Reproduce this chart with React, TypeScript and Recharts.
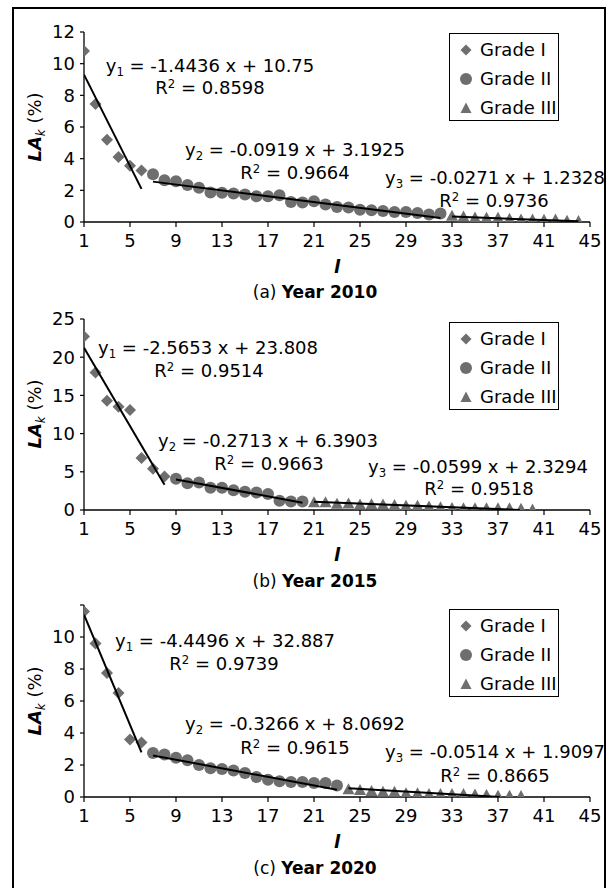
import React from 'react';
import { ScatterChart, Scatter, XAxis, YAxis } from 'recharts';

const FONT = '"DejaVu Sans", "Liberation Sans", sans-serif';
const GRAY = '#6e6e6e';

// ---------- shared axis ticks ----------
const rankTicks = [1, 5, 9, 13, 17, 21, 25, 29, 33, 37, 41, 45];
const yTicks2010 = [0, 2, 4, 6, 8, 10, 12];
const yTicks2015 = [0, 5, 10, 15, 20, 25];
const yTicks2020 = [0, 2, 4, 6, 8, 10, 12];
const legendLabels = ['Grade I', 'Grade II', 'Grade III'];

// ---------- (a) 2010 ----------
const g1Start2010 = 1;
const g1Values2010 = [10.8, 7.45, 5.2, 4.1, 3.55, 3.25];
const g2Start2010 = 7;
const g2Values2010 = [3.02, 2.64, 2.58, 2.33, 2.16, 1.86, 1.84, 1.8, 1.73, 1.63, 1.63, 1.69, 1.27, 1.23, 1.31, 1.1, 0.95, 0.91, 0.78, 0.74, 0.7, 0.63, 0.63, 0.57, 0.47, 0.53];
const g3Start2010 = 33;
const g3Values2010 = [0.36, 0.32, 0.25, 0.24, 0.24, 0.17, 0.13, 0.12, 0.11, 0.12, 0.04, 0.03];
const trend1_2010 = [{ x: 1, y: 9.31 }, { x: 6, y: 2.09 }];
const trend2_2010 = [{ x: 7, y: 2.55 }, { x: 32, y: 0.25 }];
const trend3_2010 = [{ x: 33, y: 0.34 }, { x: 44, y: 0.04 }];
const eq2010 = ['-1.4436 x + 10.75', '-0.0919 x + 3.1925', '-0.0271 x + 1.2328'];
const r2_2010 = ['0.8598', '0.9664', '0.9736'];

// ---------- (b) 2015 ----------
const g1Start2015 = 1;
const g1Values2015 = [22.7, 18.0, 14.3, 13.5, 13.1, 6.8, 5.4, 4.4];
const g2Start2015 = 9;
const g2Values2015 = [4.1, 3.5, 3.6, 2.9, 2.9, 2.6, 2.4, 2.3, 2.1, 1.2, 1.1, 1.1];
const g3Start2015 = 21;
const g3Values2015 = [0.95, 0.95, 0.75, 0.8, 0.65, 0.7, 0.65, 0.6, 0.5, 0.5, 0.4, 0.3, 0.2, 0.15, 0.15, 0.15, 0.15, 0.15, 0.1, 0.0];
const trend1_2015 = [{ x: 1, y: 21.24 }, { x: 8, y: 3.29 }];
const trend2_2015 = [{ x: 9, y: 4.0 }, { x: 20, y: 0.96 }];
const trend3_2015 = [{ x: 21, y: 1.07 }, { x: 38.9, y: 0 }];
const eq2015 = ['-2.5653 x + 23.808', '-0.2713 x + 6.3903', '-0.0599 x + 2.3294'];
const r2_2015 = ['0.9514', '0.9663', '0.9518'];

// ---------- (c) 2020 ----------
const g1Start2020 = 1;
const g1Values2020 = [11.6, 9.6, 7.75, 6.5, 3.6, 3.4];
const g2Start2020 = 7;
const g2Values2020 = [2.75, 2.65, 2.45, 2.3, 2.0, 1.8, 1.75, 1.65, 1.5, 1.25, 1.08, 0.98, 0.94, 0.94, 0.88, 0.88, 0.72];
const g3Start2020 = 24;
const g3Values2020 = [0.45, 0.4, 0.35, 0.3, 0.3, 0.2, 0.2, 0.15, 0.15, 0.15, 0.15, 0.12, 0.1, 0.05, 0.05, 0.03];
const trend1_2020 = [{ x: 1, y: 11.39 }, { x: 6, y: 2.79 }];
const trend2_2020 = [{ x: 7, y: 2.6 }, { x: 23, y: 0.45 }];
const trend3_2020 = [{ x: 24, y: 0.55 }, { x: 37.15, y: 0 }];
const eq2020 = ['-4.4496 x + 32.887', '-0.3266 x + 8.0692', '-0.0514 x + 1.9097'];
const r2_2020 = ['0.9739', '0.9615', '0.8665'];

const toPoints = (start: number, values: number[]) => values.map((v, i) => ({ x: start + i, y: v }));

// ---------- marker shapes ----------
const DiamondShape = (p: any) => {
  const s = 6;
  return <polygon points={`${p.cx},${p.cy - s} ${p.cx + s},${p.cy} ${p.cx},${p.cy + s} ${p.cx - s},${p.cy}`} fill={GRAY} />;
};
const CircleShape = (p: any) => <circle cx={p.cx} cy={p.cy} r={6} fill={GRAY} />;
const TriangleShape = (p: any) => (
  <polygon points={`${p.cx},${p.cy - 6.5} ${p.cx + 6},${p.cy + 4.5} ${p.cx - 6},${p.cy + 4.5}`} fill={GRAY} />
);
const NoShape = () => <g />;

const LegendIcon = ({ kind }: { kind: number }) => (
  <svg width={14} height={14} style={{ display: 'block' }}>
    {kind === 0 && <polygon points="7,1.5 12.5,7 7,12.5 1.5,7" fill={GRAY} />}
    {kind === 1 && <circle cx={7} cy={7} r={6} fill={GRAY} />}
    {kind === 2 && <polygon points="7,1.5 12.5,12 1.5,12" fill={GRAY} />}
  </svg>
);

const Legend = ({ top }: { top: number }) => (
  <div
    style={{
      position: 'absolute', left: 449, top, width: 110, height: 88, boxSizing: 'border-box',
      border: '1.5px solid #000', background: '#fff', paddingTop: 1,
    }}
  >
    {legendLabels.map((lab, i) => (
      <div key={lab} style={{ display: 'flex', alignItems: 'center', height: 29 }}>
        <div style={{ width: 28, display: 'flex', justifyContent: 'center', paddingLeft: 2 }}>
          <LegendIcon kind={i} />
        </div>
        <span style={{ fontFamily: FONT, fontSize: 18, color: '#000', whiteSpace: 'nowrap' }}>{lab}</span>
      </div>
    ))}
  </div>
);

const Text = ({ cx, cy, children, size = 18 }: any) => (
  <div
    style={{
      position: 'absolute', left: cx, top: cy, transform: 'translate(-50%, -50%)',
      fontFamily: FONT, fontSize: size, color: '#000', whiteSpace: 'nowrap', lineHeight: 1,
    }}
  >
    {children}
  </div>
);

const Eq = ({ idx, text }: { idx: number; text: string }) => (
  <span>
    y<span style={{ fontSize: '0.65em', position: 'relative', top: '0.3em' }}>{idx}</span> = {text}
  </span>
);
const R2 = ({ text }: { text: string }) => (
  <span>
    R<span style={{ fontSize: '0.65em', position: 'relative', top: '-0.5em' }}>2</span> = {text}
  </span>
);

type PanelProps = {
  top: number;
  margin: { top: number; bottom: number };
  yDomain: [number, number];
  yTicks: number[];
  hideTop?: boolean;
  g1: { x: number; y: number }[];
  g2: { x: number; y: number }[];
  g3: { x: number; y: number }[];
  trends: { x: number; y: number }[][];
};

const Panel = ({ top, margin, yDomain, yTicks, hideTop, g1, g2, g3, trends }: PanelProps) => (
  <div style={{ position: 'absolute', left: 0, top }}>
    <ScatterChart width={615} height={300} margin={{ top: margin.top, right: 25, bottom: margin.bottom, left: 44 }}>
      <XAxis
        type="number"
        dataKey="x"
        domain={[1, 45]}
        ticks={rankTicks}
        interval={0}
        allowDataOverflow
        height={30}
        tickSize={5}
        tickMargin={7}
        axisLine={{ stroke: '#000', strokeWidth: 1.5 }}
        tickLine={{ stroke: '#000', strokeWidth: 1.2 }}
        tick={{ fill: '#000', fontSize: 18, fontFamily: FONT }}
      />
      <YAxis
        type="number"
        dataKey="y"
        domain={yDomain}
        ticks={yTicks}
        interval={0}
        allowDataOverflow
        width={40}
        tickSize={4}
        tickMargin={5}
        axisLine={{ stroke: '#000', strokeWidth: 1.3 }}
        tickLine={{ stroke: '#000', strokeWidth: 1.2 }}
        tick={{ fill: '#000', fontSize: 18, fontFamily: FONT }}
        tickFormatter={(v: number) => (hideTop && v === yDomain[1] ? '' : String(v))}
      />
      <Scatter data={g1} shape={DiamondShape} isAnimationActive={false} />
      <Scatter data={g2} shape={CircleShape} isAnimationActive={false} />
      <Scatter data={g3} shape={TriangleShape} isAnimationActive={false} />
      {trends.map((t, i) => (
        <Scatter
          key={i}
          data={t}
          fill="#000"
          stroke="#000"
          line={{ stroke: '#000', strokeWidth: 2 }}
          shape={NoShape}
          isAnimationActive={false}
        />
      ))}
    </ScatterChart>
  </div>
);

const YTitle = ({ cy }: { cy: number }) => (
  <div
    style={{
      position: 'absolute', left: 35, top: cy, transform: 'translate(-50%, -50%) rotate(-90deg)',
      fontFamily: FONT, fontSize: 18, color: '#000', whiteSpace: 'nowrap', lineHeight: 1,
    }}
  >
    <span style={{ fontWeight: 'bold', fontStyle: 'italic' }}>LA</span>
    <span style={{ fontStyle: 'italic', fontSize: '0.65em', position: 'relative', top: '0.3em' }}>k</span>
    <span> (%)</span>
  </div>
);

const XTitle = ({ cy }: { cy: number }) => (
  <Text cx={337} cy={cy}>
    <span style={{ fontWeight: 'bold', fontStyle: 'italic' }}>l</span>
  </Text>
);

const Caption = ({ cy, tag, year }: { cy: number; tag: string; year: string }) => (
  <Text cx={315} cy={cy} size={17}>
    <span>{tag} </span>
    <span style={{ fontWeight: 'bold' }}>Year {year}</span>
  </Text>
);

export default function App() {
  return (
    <div style={{ position: 'absolute', left: 0, top: 0, width: 615, height: 888, overflow: 'hidden', background: '#fff' }}>
      <div style={{ position: 'absolute', left: 12, top: 7, width: 594, height: 900, boxSizing: 'border-box', border: '2px solid #000' }} />

      {/* (a) 2010 */}
      <Panel
        top={0}
        margin={{ top: 32, bottom: 48 }}
        yDomain={[0, 12]}
        yTicks={yTicks2010}
        g1={toPoints(g1Start2010, g1Values2010)}
        g2={toPoints(g2Start2010, g2Values2010)}
        g3={toPoints(g3Start2010, g3Values2010)}
        trends={[trend1_2010, trend2_2010, trend3_2010]}
      />
      <YTitle cy={127} />
      <XTitle cy={267} />
      <Caption cy={292} tag="(a)" year="2010" />
      <Legend top={33} />
      <Text cx={210} cy={66}><Eq idx={1} text={eq2010[0]} /></Text>
      <Text cx={210} cy={88}><R2 text={r2_2010[0]} /></Text>
      <Text cx={295} cy={150}><Eq idx={2} text={eq2010[1]} /></Text>
      <Text cx={295} cy={173}><R2 text={r2_2010[1]} /></Text>
      <Text cx={495} cy={178}><Eq idx={3} text={eq2010[2]} /></Text>
      <Text cx={494} cy={201}><R2 text={r2_2010[2]} /></Text>

      {/* (b) 2015 */}
      <Panel
        top={290}
        margin={{ top: 29, bottom: 50 }}
        yDomain={[0, 25]}
        yTicks={yTicks2015}
        g1={toPoints(g1Start2015, g1Values2015)}
        g2={toPoints(g2Start2015, g2Values2015)}
        g3={toPoints(g3Start2015, g3Values2015)}
        trends={[trend1_2015, trend2_2015, trend3_2015]}
      />
      <YTitle cy={414} />
      <XTitle cy={555} />
      <Caption cy={581} tag="(b)" year="2015" />
      <Legend top={322} />
      <Text cx={208} cy={348}><Eq idx={1} text={eq2015[0]} /></Text>
      <Text cx={209} cy={371}><R2 text={r2_2015[0]} /></Text>
      <Text cx={268} cy={441}><Eq idx={2} text={eq2015[1]} /></Text>
      <Text cx={269} cy={464}><R2 text={r2_2015[1]} /></Text>
      <Text cx={478} cy={467}><Eq idx={3} text={eq2015[2]} /></Text>
      <Text cx={479} cy={489}><R2 text={r2_2015[2]} /></Text>

      {/* (c) 2020 */}
      <Panel
        top={580}
        margin={{ top: 25, bottom: 53 }}
        yDomain={[0, 12]}
        yTicks={yTicks2020}
        hideTop
        g1={toPoints(g1Start2020, g1Values2020)}
        g2={toPoints(g2Start2020, g2Values2020)}
        g3={toPoints(g3Start2020, g3Values2020)}
        trends={[trend1_2020, trend2_2020, trend3_2020]}
      />
      <YTitle cy={701} />
      <XTitle cy={842} />
      <Caption cy={868} tag="(c)" year="2020" />
      <Legend top={609} />
      <Text cx={225} cy={641}><Eq idx={1} text={eq2020[0]} /></Text>
      <Text cx={224} cy={664}><R2 text={r2_2020[0]} /></Text>
      <Text cx={295} cy={724}><Eq idx={2} text={eq2020[1]} /></Text>
      <Text cx={295} cy={748}><R2 text={r2_2020[1]} /></Text>
      <Text cx={495} cy={752}><Eq idx={3} text={eq2020[2]} /></Text>
      <Text cx={495} cy={776}><R2 text={r2_2020[2]} /></Text>
    </div>
  );
}
